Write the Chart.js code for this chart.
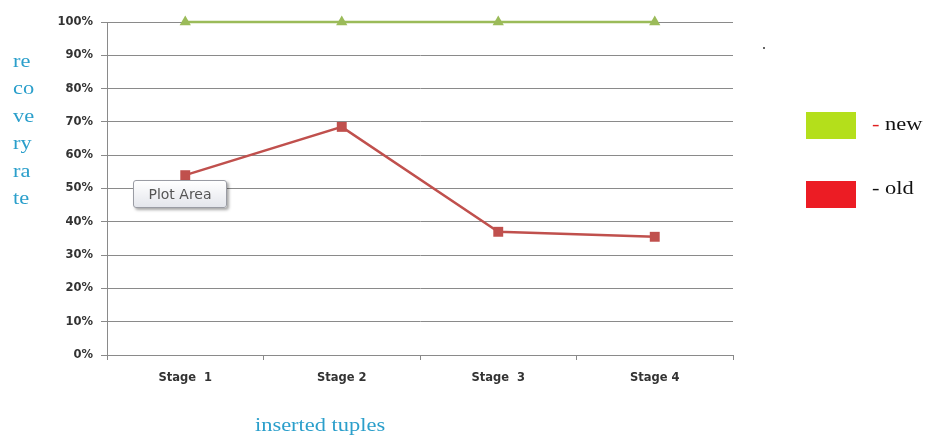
<!DOCTYPE html>
<html>
<head>
<meta charset="utf-8">
<script src="https://cdn.jsdelivr.net/npm/chart.js@4"></script>
<style>
  html, body { margin: 0; padding: 0; background: #fff; }
  #wrap { position: relative; width: 927px; height: 437px; overflow: hidden; }
  canvas { position: absolute; left: 0; top: 0; }
  .serif { position: absolute; font-family: "Liberation Serif", "DejaVu Serif", serif; font-size: 19px;
           transform: scaleX(1.18); transform-origin: 0 0; white-space: nowrap; }
  #ytitle { left: 13px; top: 47px; color: #2b9fcb; line-height: 27.4px; }
  #xtitle { left: 255px; top: 414px; color: #2b9fcb; }
  .swatch { position: absolute; width: 50px; height: 27px; }
  .leg { color: #111; }
  .dash-red { color: #e02020; }
  #plotArea {
    position: absolute; left: 133px; top: 180px; width: 92px; height: 26px;
    border: 1px solid #9a9ca4; border-radius: 3px;
    background: linear-gradient(#ffffff, #e4e6ec);
    box-shadow: 2px 2px 3px rgba(0,0,0,0.35);
    font-family: "DejaVu Sans", sans-serif; font-size: 14px; color: #555;
    line-height: 26px; text-align: center;
  }
  #dot { position: absolute; left: 763px; top: 47px; width: 2px; height: 2px; background: #666; }
</style>
</head>
<body>
<div id="wrap">
  <canvas id="c" width="927" height="437"></canvas>
  <div id="ytitle" class="serif">re<br>co<br>ve<br>ry<br>ra<br>te</div>
  <div id="xtitle" class="serif">inserted tuples</div>
  <div class="swatch" style="left:806px; top:112px; background:#b4df1b;"></div>
  <div class="serif leg" style="left:872px; top:113px;"><span class="dash-red">-</span> new</div>
  <div class="swatch" style="left:806px; top:181px; background:#ec1c24;"></div>
  <div class="serif leg" style="left:872px; top:177px;">- old</div>
  <div id="plotArea">Plot Area</div>
  <div id="dot"></div>
</div>
<script>
// Recovery rate (%) per insertion stage
const stages = ["Stage  1", "Stage 2", "Stage  3", "Stage 4"];
const newRate = [100, 100, 100, 100];
const oldRate = [54, 68.5, 37, 35.5];
const yTicks = [0, 10, 20, 30, 40, 50, 60, 70, 80, 90, 100];

const tickFont = { family: "'DejaVu Sans', sans-serif", size: 11.5, weight: 'bold' };

new Chart(document.getElementById('c'), {
  type: 'line',
  data: {
    labels: stages,
    datasets: [
      {
        label: 'new',
        data: newRate,
        borderColor: '#9bbb59',
        backgroundColor: '#9bbb59',
        borderWidth: 2.5,
        pointStyle: 'triangle',
        pointRadius: 6.5,
        pointBorderWidth: 0,
        clip: false,
        tension: 0
      },
      {
        label: 'old',
        data: oldRate,
        borderColor: '#c0504d',
        backgroundColor: '#c0504d',
        borderWidth: 2.5,
        pointStyle: 'rect',
        pointRadius: 7,
        pointBorderWidth: 0,
        clip: false,
        tension: 0
      }
    ]
  },
  options: {
    responsive: false,
    animation: false,
    events: [],
    layout: { padding: { left: 0, right: 194, top: 22, bottom: 0 } },
    plugins: { legend: { display: false }, tooltip: { enabled: false } },
    scales: {
      x: {
        offset: true,
        grid: { offset: true, drawOnChartArea: false, drawTicks: true, tickLength: 5, color: '#888' },
        border: { display: false },
        ticks: { color: '#333', font: tickFont, padding: 11 },
        afterFit(scale) { scale.height = 82; }
      },
      y: {
        min: 0,
        max: 100,
        afterBuildTicks(scale) { scale.ticks = yTicks.map(v => ({ value: v })); },
        grid: { color: '#8a8a8a', lineWidth: 1, tickLength: 6 },
        border: { display: true, color: '#8a8a8a', width: 1 },
        ticks: { color: '#333', font: tickFont, padding: 8, callback: v => v + '%' },
        afterFit(scale) { scale.width = 107; }
      }
    }
  }
});
</script>
</body>
</html>
